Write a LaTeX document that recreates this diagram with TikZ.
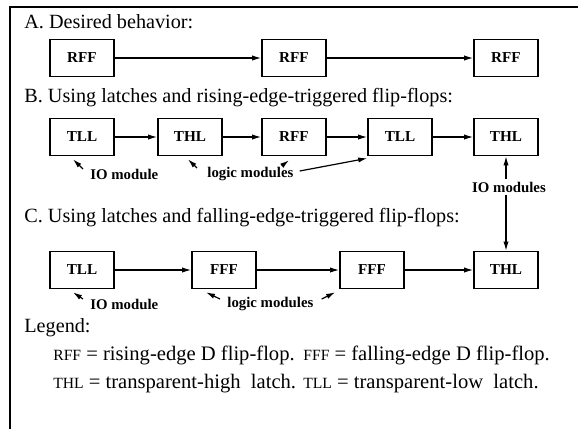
\documentclass[tikz,border=0pt]{standalone}
\usepackage{fontspec}
\setmainfont{Liberation Serif}
\usetikzlibrary{arrows.meta,calc}

\tikzset{
  blk/.style={draw, line width=0.8pt, minimum width=32pt, minimum height=18.5pt,
    inner sep=0pt, font=\fontsize{7.6}{8}\selectfont\bfseries},
  flow/.style={line width=0.6pt, -{Latex[length=4.5pt,width=2.6pt]}},
  tag/.style={font=\fontsize{7.4}{8}\selectfont\bfseries, inner sep=1pt},
  hd/.style={anchor=base west, inner sep=0pt, font=\fontsize{10.1}{12}\selectfont},
  lgd/.style={anchor=base west, inner sep=0pt, font=\fontsize{10.3}{12}\selectfont},
}
\newcommand{\lsc}[1]{{\fontsize{7.8}{9}\selectfont #1}}

\begin{document}
\begin{tikzpicture}[x=0.5pt,y=-0.5pt]
\useasboundingbox (0,0) rectangle (578,429);
\draw[line width=0.8pt] (10,429) -- (10,7) -- (578,7);

% desired behaviour
\node[hd] (hA) at (24,28) {A. Desired behavior:};
\node[blk] (a1) at (82,58) {RFF};
\node[blk] (a2) at (294,58) {RFF};
\node[blk] (a3) at (506,58) {RFF};
\draw[flow] (a1) -- (a2);
\draw[flow] (a2) -- (a3);

% rising edge version
\node[hd] (hB) at (24,102) {B. Using latches and rising-edge-triggered flip-flops:};
\node[blk] (b1) at (82,137) {TLL};
\node[blk] (b2) at (190,137) {THL};
\node[blk] (b3) at (294,137) {RFF};
\node[blk] (b4) at (400,137) {TLL};
\node[blk] (b5) at (506,137) {THL};
\foreach \i/\j in {b1/b2,b2/b3,b3/b4,b4/b5}
  \draw[flow] (\i) -- (\j);

\node[tag, anchor=west] (ioB) at (88,174) {IO module};
\node[tag, anchor=west] (lgB) at (205,174) {logic modules};
\node[tag] (ioR) at (509,187) {IO modules};
\draw[flow] ($(ioB.west)+(-5,-5)$) -- ($(b1.south)+(-9,3)$);
\draw[flow] ($(lgB.west)+(-8,-6)$) -- ($(b2.south)+(-2,3)$);
\draw[flow] ($(lgB.north east)+(-14,1)$) -- ($(b3.south)+(-5,4)$);
\draw[flow] ($(lgB.east)+(4,-3)$) -- ($(b4.south west)+(0,2)$);
\draw[flow] (ioR.north -| b5.south) -- (b5.south);

% falling edge version
\node[hd] (hC) at (24,222) {C. Using latches and falling-edge-triggered flip-flops:};
\node[blk] (c1) at (82,270) {TLL};
\node[blk] (c2) at (224,270) {FFF};
\node[blk] (c3) at (372,270) {FFF};
\node[blk] (c4) at (506,270) {THL};
\foreach \i/\j in {c1/c2,c2/c3,c3/c4}
  \draw[flow] (\i) -- (\j);
\draw[flow] (ioR.south -| c4.north) -- (c4.north);

\node[tag, anchor=west] (ioC) at (88,304) {IO module};
\node[tag, anchor=west] (lgC) at (225,304) {logic modules};
\draw[flow] ($(ioC.west)+(-5,-5)$) -- ($(c1.south)+(-9,3)$);
\draw[flow] ($(lgC.west)+(-5,-5)$) -- ($(c2.south)+(-18,3)$);
\draw[flow] ($(lgC.east)+(6,-5)$) -- ($(c3.south west)+(-4,3)$);

% legend
\node[hd] (lg) at (24,332) {Legend:};
\node[lgd] (l1) at (53,360) {\lsc{RFF} = rising-edge D flip-flop.};
\node[lgd] (l2) at (303,360) {\lsc{FFF} = falling-edge D flip-flop.};
\node[lgd] (l3) at (53,388) {\lsc{THL} = transparent-high\ \ latch.};
\node[lgd] (l4) at (303,388) {\lsc{TLL} = transparent-low\ \ latch.};
\end{tikzpicture}
\end{document}
